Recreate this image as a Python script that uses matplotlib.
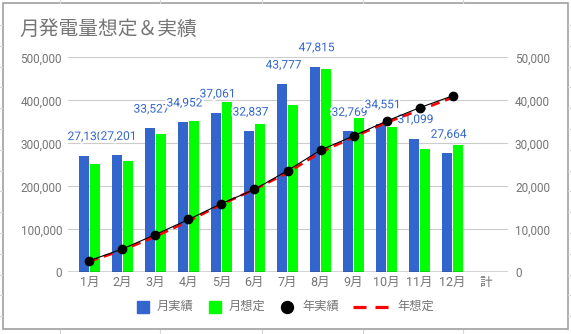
import matplotlib
matplotlib.use("Agg")
import matplotlib.pyplot as plt
import matplotlib.patheffects as pe
from matplotlib.patches import Rectangle
from matplotlib.ticker import FuncFormatter
import numpy as np

plt.rcParams['font.family'] = ['Roboto', 'Noto Sans CJK JP', 'DejaVu Sans']

# ---- data ----
months = ['1月', '2月', '3月', '4月', '5月', '6月', '7月', '8月', '9月', '10月', '11月', '12月', '計']
monthly_actual = [27130, 27201, 33527, 34952, 37061, 32837, 43777, 47815, 32769, 34551, 31099, 27664]
monthly_plan = [25300, 26000, 32100, 35200, 39600, 34500, 38900, 47200, 35900, 33700, 28600, 29500]
yearly_actual = [27130, 54331, 87858, 122810, 159871, 192708, 236485, 284300, 317069, 351620, 382719, 410383]
yearly_plan = [25300, 51300, 83400, 118600, 158200, 192700, 231600, 278800, 314700, 348400, 377000, 406500]
left_ticks = [0, 100000, 200000, 300000, 400000, 500000]
right_ticks = [0, 10000, 20000, 30000, 40000, 50000]
title = '月発電量想定＆実績'
legend_labels = ['月実績', '月想定', '年実績', '年想定']

BLUE = '#3366cc'
GREEN = '#00ff00'
GREY = '#757575'

W, H = 571, 334
fig = plt.figure(figsize=(W / 100, H / 100), dpi=100)
fig.patch.set_facecolor('white')

# overlay in pixel coordinates (border, legend, sheet lines)
ov = fig.add_axes([0, 0, 1, 1], zorder=-5)
ov.set_xlim(0, W)
ov.set_ylim(H, 0)
ov.axis('off')
ov.patch.set_alpha(0)

ax_l, ax_r, ax_b, ax_t = 68, 508, 272.3, 57.3
ax = fig.add_axes([ax_l / W, 1 - ax_b / H, (ax_r - ax_l) / W, (ax_b - ax_t) / H])
ax2 = ax.twinx()

x = np.arange(len(monthly_actual))
off, bw = 0.165, 0.29
ax.bar(x - off, monthly_actual, width=bw, color=BLUE, zorder=2)
ax.bar(x + off, monthly_plan, width=bw, color=GREEN, zorder=2)
ax.set_xlim(-0.65, 12.68)
ax.set_ylim(0, 50000)
ax.set_yticks(right_ticks)
fmt = FuncFormatter(lambda v, p: f'{int(v):,}')
ax.yaxis.set_major_formatter(fmt)
ax.set_xticks(range(len(months)))
ax.set_xticklabels(months)
ax.tick_params(axis='x', length=0, pad=2.5, labelsize=9, labelcolor=GREY)
ax.grid(axis='y', color='#cccccc', lw=0.8, zorder=0)
ax.set_axisbelow(True)
for s in ax.spines.values():
    s.set_visible(False)
ax.axhline(0, color='#333333', lw=1.0, zorder=3)

for xi, v in zip(x, monthly_actual):
    ax.annotate(f'{v:,}', (xi - off + 0.04, v), xytext=(0, 13.7), textcoords='offset points',
                ha='center', va='center', color=BLUE, fontsize=8.6, annotation_clip=False,
                path_effects=[pe.withStroke(linewidth=3, foreground='white')], zorder=4)

ax2.plot(x, yearly_plan, color='#ff0000', lw=1.9, dashes=[3.5, 2.2], zorder=2)
ax2.plot(x, yearly_actual, color='black', lw=0.8, marker='o', ms=6, zorder=3)
ax2.set_ylim(0, 500000)
ax2.set_yticks(left_ticks)
ax2.yaxis.set_major_formatter(fmt)
for s in ax2.spines.values():
    s.set_visible(False)

# axis sides: bars scale on right, cumulative scale on left
ax.yaxis.tick_right()
ax.tick_params(axis='y', which='both', left=False, labelleft=False, right=True, labelright=True,
               length=0, pad=5, labelsize=8.5, labelcolor=GREY)
ax2.yaxis.tick_left()
ax2.tick_params(axis='y', which='both', right=False, labelright=False, left=True, labelleft=True,
                length=0, pad=4.3, labelsize=8.5, labelcolor=GREY)

# title
ov.text(19, 29, title, ha='left', va='center', fontsize=14.2, color=GREY)

# legend
ly = 306.7
ov.add_patch(Rectangle((137, ly - 6), 12, 12, color=BLUE))
ov.text(157, ly, legend_labels[0], ha='left', va='center', fontsize=8.8, color=GREY)
ov.add_patch(Rectangle((209, ly - 6), 12, 12, color=GREEN))
ov.text(229, ly, legend_labels[1], ha='left', va='center', fontsize=8.8, color=GREY)
ov.plot([287], [ly], 'o', color='black', ms=8.6)
ov.text(302, ly, legend_labels[2], ha='left', va='center', fontsize=8.8, color=GREY)
ov.plot([353, 366], [ly, ly], color='#ff0000', lw=2.3, solid_capstyle='butt')
ov.plot([375, 388], [ly, ly], color='#ff0000', lw=2.3, solid_capstyle='butt')
ov.text(397, ly, legend_labels[3], ha='left', va='center', fontsize=8.8, color=GREY)

# chart border and surrounding sheet grid
ov.add_patch(Rectangle((2.5, 3), 565, 326, fill=False, edgecolor='#a0a0a0', lw=1.2))
for xv in [60, 160, 262, 363, 463]:
    ov.plot([xv, xv], [0, 2.5], color='#d6d6d6', lw=0.8)
    ov.plot([xv, xv], [329.5, 334], color='#d6d6d6', lw=0.8)
for k in range(16):
    yv = 25 + 20.8 * k
    if yv < 329:
        ov.plot([0, 2], [yv, yv], color='#d6d6d6', lw=0.8)
        ov.plot([568, 571], [yv, yv], color='#d6d6d6', lw=0.8)

fig.savefig('out.png', dpi=100)
